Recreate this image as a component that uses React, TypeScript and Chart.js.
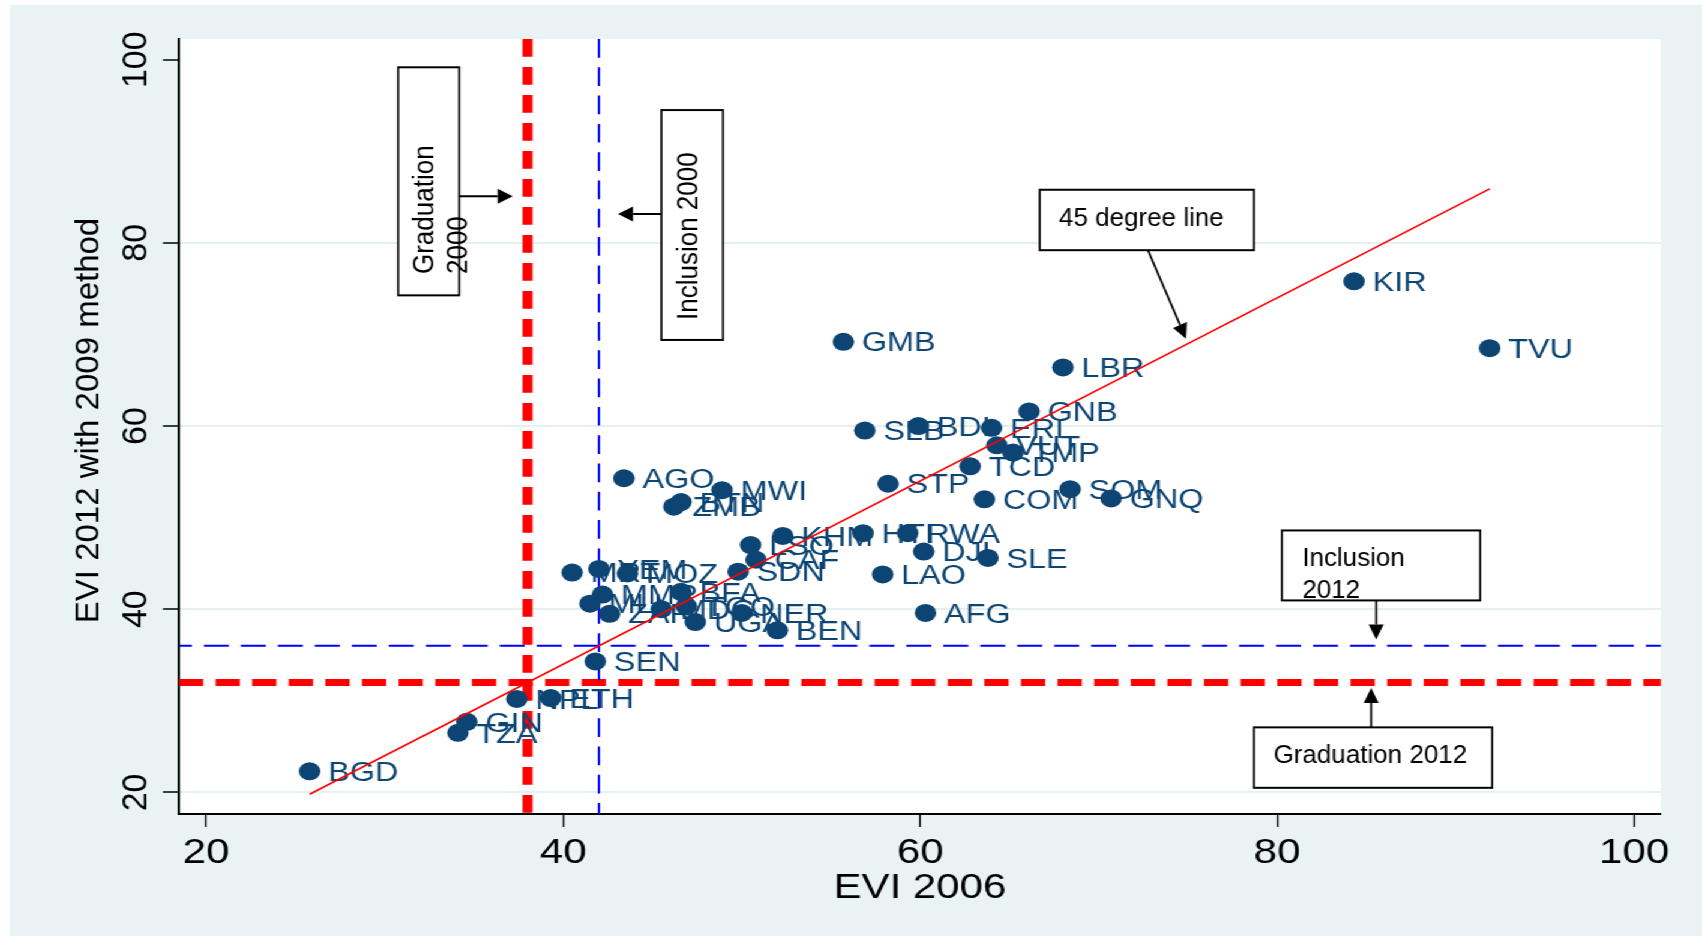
import { useEffect, useRef } from "react";
import { Chart, registerables } from "chart.js";

Chart.register(...registerables);

// Country codes and their vulnerability index values
const countries = [
  "BGD", "TZA", "GIN", "NPL", "ETH", "SEN", "MRT", "YEM", "MOZ", "MMR",
  "MLI", "ZAR", "MDG", "TGO", "BFA", "UGA", "NER", "BEN", "SDN", "CAF",
  "LSO", "KHM", "AGO", "ZMB", "BTN", "MWI", "HTI", "RWA", "DJI", "SLE",
  "LAO", "AFG", "STP", "TCD", "COM", "SOM", "GNQ", "SLB", "BDI", "ERI",
  "VUT", "TMP", "GNB", "LBR", "GMB", "KIR", "TVU",
];
const evi2006 = [
  25.8, 34.1, 34.6, 37.4, 39.3, 41.8, 40.5, 42.0, 43.6, 42.2,
  41.5, 42.6, 45.5, 46.9, 46.6, 47.4, 50.0, 52.0, 49.8, 50.8,
  50.5, 52.3, 43.4, 46.2, 46.6, 48.9, 56.8, 59.3, 60.2, 63.8,
  57.9, 60.3, 58.2, 62.8, 63.6, 68.4, 70.7, 56.9, 59.9, 64.0,
  64.3, 65.2, 66.1, 68.0, 55.7, 84.3, 91.9,
];
const evi2012 = [
  22.3, 26.5, 27.7, 30.2, 30.3, 34.3, 44.0, 44.4, 43.9, 41.6,
  40.6, 39.5, 40.0, 40.3, 41.9, 38.6, 39.6, 37.7, 44.1, 45.4,
  47.0, 48.0, 54.3, 51.2, 51.7, 53.0, 48.3, 48.3, 46.3, 45.6,
  43.8, 39.6, 53.7, 55.6, 52.0, 53.1, 52.1, 59.5, 60.0, 59.8,
  57.9, 57.1, 61.6, 66.4, 69.2, 75.8, 68.5,
];

const xTickValues = [20, 40, 60, 80, 100];
const yTickValues = [20, 40, 60, 80, 100];
const xRange = [18.48, 101.5];
const yRange = [17.64, 102.26];

// Thresholds
const graduation2000 = 38;
const inclusion2000 = 42;
const inclusion2012 = 36;
const graduation2012 = 32;

// 45 degree reference line end points
const diagonalX = [25.8, 91.9];
const diagonalY = [19.8, 85.9];

const xTitle = "EVI 2006";
const yTitle = "EVI 2012 with 2009 method";

// Callout boxes, anchored in data units
type Note = {
  lines: string[];
  box: [number, number, number, number];
  rotated: boolean;
  textAt: [number, number];
  arrow: [number, number, number, number];
};
const notes: Note[] = [
  { lines: ["Graduation", "2000"], box: [30.76, 99.17, 34.17, 74.27], rotated: true, textAt: [32.755, 76.6], arrow: [34.17, 85.1, 37.17, 85.1] },
  { lines: ["Inclusion 2000"], box: [45.5, 94.5, 48.95, 69.4], rotated: true, textAt: [47.54, 71.58], arrow: [45.5, 83.15, 43.07, 83.15] },
  { lines: ["45 degree line"], box: [66.7, 85.8, 78.7, 79.2], rotated: false, textAt: [67.78, 82.88], arrow: [72.76, 79.2, 74.89, 69.53] },
  { lines: ["Inclusion", "2012"], box: [80.26, 48.6, 91.37, 40.96], rotated: false, textAt: [81.4, 45.76], arrow: [85.54, 40.96, 85.54, 36.7] },
  { lines: ["Graduation 2012"], box: [78.7, 27.1, 92.04, 20.5], rotated: false, textAt: [79.79, 24.17], arrow: [85.26, 27.1, 85.26, 31.4] },
];

const WIDTH = 1702;
const HEIGHT = 939;
const BASE_W = 1418;
const SX = WIDTH / BASE_W;

const PANEL = "rgb(233,243,243)";
const GRID = "rgb(229,240,241)";
const NAVY = "#0c4574";
const FONT = '"Liberation Sans", Arial, Helvetica, sans-serif';

const backgroundPlugin = {
  id: "panelBackground",
  beforeDraw(chart: any) {
    const { ctx, width, height, chartArea: a } = chart;
    ctx.save();
    ctx.fillStyle = "#ffffff";
    ctx.fillRect(0, 0, width, height);
    ctx.fillStyle = PANEL;
    ctx.fillRect(10 / SX, 5, width - 10 / SX, 931);
    ctx.fillStyle = "#ffffff";
    ctx.fillRect(a.left, a.top, a.right - a.left, a.bottom - a.top);
    ctx.restore();
  },
};

const pointLabelPlugin = {
  id: "pointLabels",
  beforeDatasetDraw(chart: any, args: any) {
    if (args.index !== 0) return;
    const ctx = chart.ctx;
    ctx.save();
    ctx.font = `27px ${FONT}`;
    ctx.fillStyle = NAVY;
    ctx.textAlign = "left";
    ctx.textBaseline = "alphabetic";
    args.meta.data.forEach((pt: any, i: number) => {
      ctx.fillText(countries[i], pt.x + 18.5 / SX, pt.y + 9.7);
    });
    ctx.restore();
  },
};

function rotatedText(ctx: any, str: string, x: number, y: number, size: number, across: number, align: string) {
  ctx.save();
  ctx.translate(x, y);
  ctx.rotate(-Math.PI / 2);
  ctx.scale(1, across);
  ctx.font = `${size}px ${FONT}`;
  ctx.textAlign = align;
  ctx.textBaseline = "alphabetic";
  ctx.fillText(str, 0, 0);
  ctx.restore();
}

const axisTextPlugin = {
  id: "axisText",
  afterDraw(chart: any) {
    const { ctx, chartArea: a } = chart;
    const xs = chart.scales.x;
    const ys = chart.scales.y;
    ctx.save();
    ctx.fillStyle = "#000000";
    ctx.font = `35px ${FONT}`;
    ctx.textAlign = "center";
    ctx.textBaseline = "alphabetic";
    xTickValues.forEach((v) => ctx.fillText(String(v), xs.getPixelForValue(v), 863));
    ctx.fillText(xTitle, (a.left + a.right) / 2, 897.5);
    yTickValues.forEach((v) => rotatedText(ctx, String(v), 146 / SX, ys.getPixelForValue(v), 34, 1.07 / SX, "center"));
    rotatedText(ctx, yTitle, 99 / SX, 420.5, 33, 1.0 / SX, "center");
    ctx.restore();
  },
};

const notesPlugin = {
  id: "callouts",
  afterDraw(chart: any) {
    const ctx = chart.ctx;
    const xs = chart.scales.x;
    const ys = chart.scales.y;
    const fx = (v: number) => xs.getPixelForValue(v) * SX;
    const fy = (v: number) => ys.getPixelForValue(v);
    ctx.save();
    ctx.scale(1 / SX, 1);
    notes.forEach((n) => {
      const [x1, y1, x2, y2] = n.box;
      const L = fx(x1), T = fy(y1), R = fx(x2), B = fy(y2);
      ctx.fillStyle = "#ffffff";
      ctx.fillRect(L, T, R - L, B - T);
      ctx.strokeStyle = "#000000";
      ctx.lineWidth = 2;
      ctx.strokeRect(L, T, R - L, B - T);

      ctx.fillStyle = "#000000";
      const tx = fx(n.textAt[0]);
      const ty = fy(n.textAt[1]);
      n.lines.forEach((line, i) => {
        if (n.rotated) {
          rotatedText(ctx, line, tx + i * 33, ty, 26, 1.1, "left");
        } else {
          ctx.font = `26px ${FONT}`;
          ctx.textAlign = "left";
          ctx.textBaseline = "alphabetic";
          ctx.fillText(line, tx, ty + i * 32 + 9.3);
        }
      });

      const ax = fx(n.arrow[0]), ay = fy(n.arrow[1]);
      const bx = fx(n.arrow[2]), by = fy(n.arrow[3]);
      const ang = Math.atan2(by - ay, bx - ax);
      const head = 15, half = 7.5;
      const hx = bx - head * Math.cos(ang), hy = by - head * Math.sin(ang);
      ctx.strokeStyle = "#000000";
      ctx.lineWidth = 2;
      ctx.beginPath();
      ctx.moveTo(ax, ay);
      ctx.lineTo(hx, hy);
      ctx.stroke();
      ctx.beginPath();
      ctx.moveTo(bx, by);
      ctx.lineTo(hx + half * Math.sin(ang), hy - half * Math.cos(ang));
      ctx.lineTo(hx - half * Math.sin(ang), hy + half * Math.cos(ang));
      ctx.closePath();
      ctx.fill();
    });
    ctx.restore();
  },
};

function refLine(points: { x: number; y: number }[], color: string, width: number, dash: number[], offset = 0) {
  return {
    data: points,
    showLine: true,
    borderColor: color,
    borderWidth: width,
    borderDash: dash,
    borderDashOffset: offset,
    borderCapStyle: "butt",
    pointRadius: 0,
    order: 10,
  };
}

export default function App() {
  const canvasRef = useRef<HTMLCanvasElement | null>(null);

  useEffect(() => {
    if (!canvasRef.current) return;
    const points = countries.map((_, i) => ({ x: evi2006[i], y: evi2012[i] }));
    const chart = new Chart(canvasRef.current, {
      type: "scatter",
      data: {
        datasets: [
          {
            data: points,
            backgroundColor: NAVY,
            borderWidth: 0,
            pointRadius: 9,
            order: 5,
          } as any,
          refLine([{ x: inclusion2000, y: yRange[1] }, { x: inclusion2000, y: yRange[0] }], "#0000ff", 1.9, [18.7, 9.6]),
          refLine([{ x: graduation2000, y: yRange[1] }, { x: graduation2000, y: yRange[0] }], "#ff0000", 8.3, [17.7, 10.3]),
          refLine([{ x: xRange[0], y: inclusion2012 }, { x: xRange[1], y: inclusion2012 }], "#0000ff", 2, [20.8, 10], 10),
          refLine([{ x: xRange[0], y: graduation2012 }, { x: xRange[1], y: graduation2012 }], "#ff0000", 7, [20.2, 10.3]),
          {
            data: diagonalX.map((x, i) => ({ x, y: diagonalY[i] })),
            showLine: true,
            borderColor: "#ff0000",
            borderWidth: 1.6,
            pointRadius: 0,
            order: 1,
          } as any,
        ],
      },
      options: {
        responsive: true,
        maintainAspectRatio: false,
        animation: false,
        events: [],
        layout: { padding: { left: 0, top: 39, right: BASE_W - 1661 / SX, bottom: 0 } },
        plugins: { legend: { display: false }, tooltip: { enabled: false } },
        scales: {
          x: {
            type: "linear",
            min: xRange[0],
            max: xRange[1],
            afterBuildTicks: (s: any) => {
              s.ticks = xTickValues.map((v) => ({ value: v }));
            },
            afterFit: (s: any) => {
              s.height = HEIGHT - 814;
            },
            grid: { drawOnChartArea: false, drawTicks: true, tickLength: 13, tickColor: "#000000", tickWidth: 1.3 },
            border: { display: true, color: "#000000", width: 2 },
            ticks: { display: false },
          },
          y: {
            type: "linear",
            min: yRange[0],
            max: yRange[1],
            afterBuildTicks: (s: any) => {
              s.ticks = yTickValues.map((v) => ({ value: v }));
            },
            afterFit: (s: any) => {
              s.width = 179 / SX;
            },
            grid: {
              color: (c: any) => (c.tick && c.tick.value === 100 ? "rgba(0,0,0,0)" : GRID),
              lineWidth: 2,
              drawTicks: true,
              tickLength: 16 / SX,
              tickColor: "#000000",
              tickWidth: 1.5,
            },
            border: { display: true, color: "#000000", width: 2 },
            ticks: { display: false },
          },
        },
      } as any,
      plugins: [backgroundPlugin, pointLabelPlugin, axisTextPlugin, notesPlugin],
    });
    return () => chart.destroy();
  }, []);

  return (
    <div
      style={{
        position: "fixed",
        left: 0,
        top: 0,
        width: BASE_W,
        height: HEIGHT,
        transform: `scaleX(${SX})`,
        transformOrigin: "0 0",
        background: "#ffffff",
      }}
    >
      <canvas ref={canvasRef} />
    </div>
  );
}
